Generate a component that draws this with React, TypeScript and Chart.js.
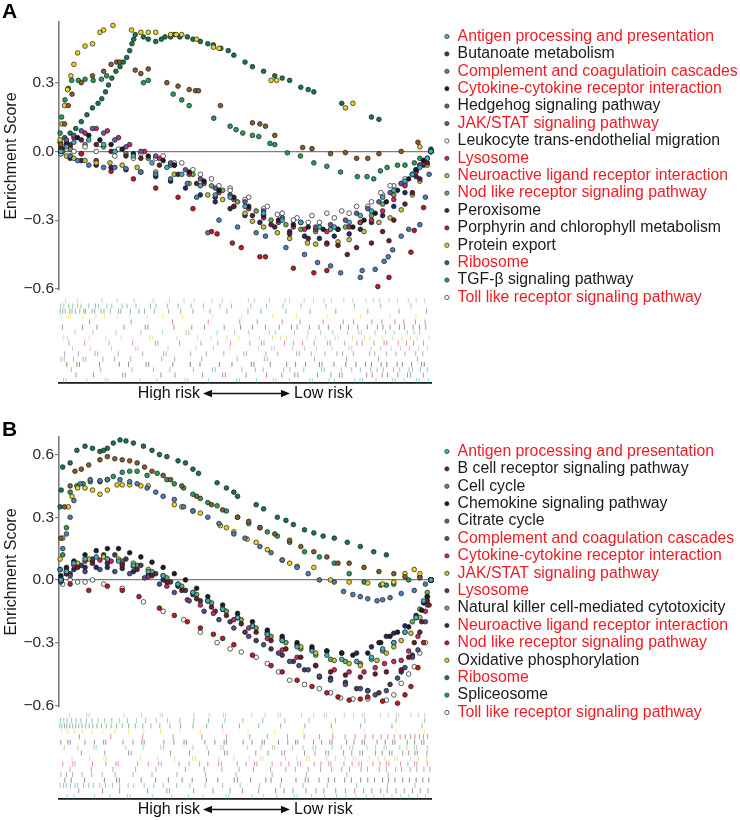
import { useEffect, useRef } from 'react';
import { Chart, registerables } from 'chart.js';

Chart.register(...registerables);
Chart.defaults.font.family = '"Liberation Sans", Arial, Helvetica, sans-serif';

type Pt = [number, number];

const RED = '#ee1c25';
const BLACK = '#1a1a1a';
const yTicks = [-0.6, -0.3, 0, 0.3, 0.6];

// ---------------- Panel A ----------------
const namesA = [
  'Antigen processing and presentation',
  'Butanoate metabolism',
  'Complement and coagulatioin cascades',
  'Cytokine-cytokine receptor interaction',
  'Hedgehog signaling pathway',
  'JAK/STAT signaling pathway',
  'Leukocyte trans-endothelial migration',
  'Lysosome',
  'Neuroactive ligand receptor interaction',
  'Nod like receptor signaling pathway',
  'Peroxisome',
  'Porphyrin and chlorophyll metabolism',
  'Protein export',
  'Ribosome',
  'TGF-β signaling pathway',
  'Toll like receptor signaling pathway',
];
const textColorsA = [RED, BLACK, RED, RED, BLACK, RED, BLACK, RED, RED, RED, BLACK, BLACK, BLACK, RED, BLACK, RED];
const colorsA = ['#36b3c6', '#6a1b2c', '#4a80b9', '#1c1c26', '#8b5a2b', '#6c54a4', '#ffffff', '#d6245e',
  '#c3c63b', '#66b04f', '#1f2d66', '#c8161d', '#f0d21c', '#15784a', '#22a058', '#ffffff'];

// running enrichment score, x = position in ranked list (%)
const esA_antigen: Pt[] = [[0.5, 0], [2, 0.02], [4, 0.04], [8, 0.05], [12, 0.03], [15, 0], [20, -0.02], [25, -0.05], [29, -0.07], [33, -0.1], [38, -0.15], [42, -0.19], [46, -0.2], [50, -0.24], [55, -0.27], [60, -0.3], [65, -0.31], [70, -0.33], [74, -0.33], [78, -0.31], [81, -0.28], [84, -0.26], [87, -0.2], [90, -0.17], [93, -0.13], [95, -0.1], [97, -0.07], [99, -0.03], [100, 0]];
const esA_butanoate: Pt[] = [[0.5, 0.01], [3, 0.03], [6, 0.05], [10, 0.03], [14, 0], [18, -0.02], [22, -0.03], [27, -0.06], [32, -0.1], [37, -0.14], [42, -0.2], [47, -0.24], [52, -0.28], [57, -0.32], [62, -0.36], [67, -0.38], [72, -0.4], [75, -0.41], [77.5, -0.45], [80, -0.42], [84, -0.4], [87, -0.35], [88.7, -0.39], [90, -0.3], [93, -0.23], [95, -0.18], [97, -0.12], [99, -0.05], [100, 0]];
const esA_complement: Pt[] = [[1, 0], [3, -0.02], [5, -0.04], [8, -0.06], [12, -0.07], [15, -0.07], [18, -0.075], [22, -0.09], [26, -0.1], [30, -0.12], [34.5, -0.14], [37, -0.2], [40, -0.355], [43, -0.3], [48, -0.33], [53, -0.355], [55.5, -0.37], [61, -0.42], [66, -0.45], [69.5, -0.485], [73, -0.5], [75.7, -0.53], [81, -0.55], [81.5, -0.52], [85, -0.515], [87.4, -0.48], [88.5, -0.46], [89.7, -0.43], [92, -0.37], [94, -0.34], [97, -0.32], [98.5, -0.2], [99.5, -0.1], [100, 0]];
const esA_cytokine: Pt[] = [[0.5, 0], [2, 0.03], [5, 0.06], [8, 0.07], [11, 0.05], [14, 0.03], [17, 0.01], [20, -0.01], [24, -0.02], [28, -0.04], [31, -0.06], [35, -0.09], [39, -0.13], [43, -0.17], [47, -0.2], [51, -0.24], [55, -0.28], [59, -0.3], [63, -0.32], [67, -0.33], [71, -0.34], [75, -0.34], [79, -0.33], [82, -0.3], [85, -0.27], [88, -0.22], [91, -0.17], [94, -0.12], [96, -0.08], [98, -0.04], [100, 0]];
const esA_hedgehog: Pt[] = [[0.5, 0.03], [1.5, 0.12], [2.5, 0.2], [3.5, 0.25], [6, 0.3], [9, 0.33], [12, 0.35], [14, 0.38], [15.5, 0.39], [16.3, 0.39], [20.5, 0.355], [22, 0.34], [24, 0.36], [29, 0.3], [32, 0.285], [35, 0.27], [36.7, 0.265], [37.5, 0.265], [43.4, 0.2], [52, 0.125], [54, 0.12], [55.5, 0.11], [58, 0.07], [65.5, 0.017], [68, 0.012], [73, -0.01], [77, -0.005], [80, -0.03], [83, -0.03], [86, -0.01], [92, 0], [96.5, 0.04], [100, 0]];
const esA_jak: Pt[] = [[0.5, 0.02], [2, 0.05], [4, 0.07], [6, 0.09], [9, 0.1], [12, 0.08], [15, 0.05], [18, 0.02], [22, 0], [26, -0.02], [30, -0.05], [34, -0.08], [38, -0.12], [42, -0.16], [46, -0.19], [50, -0.22], [55, -0.26], [60, -0.29], [65, -0.31], [69, -0.33], [73, -0.32], [77, -0.3], [80, -0.27], [83, -0.25], [86, -0.22], [89, -0.18], [92, -0.14], [95, -0.1], [97, -0.06], [99, -0.03], [100, 0]];
const esA_leukocyte: Pt[] = [[0.5, -0.01], [2, 0.01], [4, 0], [7, 0.02], [11, 0.03], [16, 0.01], [22, -0.01], [28, -0.02], [33, -0.05], [38, -0.1], [43, -0.15], [46, -0.17], [50, -0.21], [55, -0.25], [58.7, -0.275], [63, -0.3], [67, -0.31], [70, -0.31], [74, -0.29], [78, -0.27], [83, -0.24], [86.5, -0.18], [89, -0.15], [92, -0.14], [95, -0.1], [97, -0.06], [100, 0]];
const esA_lysosome: Pt[] = [[0.5, 0.01], [2, 0.04], [4, 0.06], [7, 0.08], [10, 0.1], [13, 0.09], [16, 0.06], [19, 0.03], [23, 0], [27, -0.03], [31, -0.06], [35, -0.1], [39, -0.14], [43, -0.18], [47, -0.21], [51, -0.25], [55, -0.29], [59, -0.31], [63, -0.33], [66, -0.34], [69, -0.34], [72, -0.35], [75, -0.34], [78, -0.33], [81, -0.31], [84, -0.3], [87, -0.26], [90, -0.21], [93, -0.15], [96, -0.09], [98, -0.05], [100, 0]];
const esA_neuroactive: Pt[] = [[0.5, 0], [2, -0.02], [4, -0.03], [7, -0.04], [10, -0.05], [13.7, -0.05], [17, -0.06], [21, -0.07], [26, -0.09], [31, -0.1], [35, -0.14], [40, -0.19], [44, -0.21], [47, -0.24], [50, -0.27], [52, -0.305], [55, -0.33], [58.7, -0.355], [62, -0.38], [66.8, -0.4], [69, -0.405], [72, -0.405], [75, -0.395], [78, -0.385], [82, -0.35], [86, -0.31], [89, -0.29], [92, -0.255], [95, -0.19], [97, -0.13], [99, -0.06], [100, 0]];
const esA_nod: Pt[] = [[0.5, 0], [3, 0.01], [7, 0.03], [12, 0.02], [18, -0.01], [24, -0.03], [30, -0.06], [36, -0.1], [41, -0.15], [44, -0.17], [48, -0.22], [53, -0.26], [57, -0.3], [61, -0.32], [65, -0.34], [69, -0.35], [73, -0.34], [77, -0.33], [81, -0.31], [84, -0.28], [87, -0.23], [90, -0.19], [93, -0.14], [96, -0.08], [100, 0]];
const esA_peroxisome: Pt[] = [[0.5, -0.01], [3, -0.03], [6, -0.04], [10, -0.06], [14, -0.07], [18, -0.08], [22, -0.09], [26, -0.11], [30, -0.13], [34, -0.16], [38, -0.19], [42, -0.22], [46, -0.25], [50, -0.28], [54, -0.31], [58, -0.33], [62, -0.35], [66, -0.37], [70, -0.38], [74, -0.37], [78, -0.36], [81, -0.34], [84, -0.31], [87, -0.28], [90, -0.24], [93, -0.18], [96, -0.11], [98, -0.06], [100, 0]];
const esA_porphyrin: Pt[] = [[1, 0.01], [3, 0.02], [6, -0.01], [10, -0.04], [14, -0.087], [20, -0.12], [26, -0.16], [32, -0.2], [36, -0.25], [41, -0.35], [42.5, -0.36], [46.6, -0.4], [49, -0.42], [54, -0.46], [55.5, -0.46], [63, -0.51], [68.5, -0.53], [72, -0.52], [85.7, -0.59], [88.7, -0.55], [94.6, -0.44], [95.5, -0.345], [98, -0.245], [100, 0]];
const esA_protein: Pt[] = [[0.3, 0.05], [0.8, 0.12], [1.5, 0.2], [2.3, 0.27], [3.2, 0.33], [4, 0.38], [5, 0.43], [7, 0.46], [9, 0.47], [11, 0.52], [12, 0.53], [14.5, 0.55], [19.5, 0.53], [22, 0.52], [24, 0.52], [26, 0.52], [30, 0.51], [31.5, 0.51], [33, 0.51], [37, 0.49], [41.5, 0.455], [43, 0.45], [57, 0.31], [58.5, 0.31], [77, 0.19], [79, 0.21], [97, 0.02], [100, 0]];
const esA_ribosome: Pt[] = [[0.3, 0.04], [1.5, 0.06], [3, 0.08], [4.5, 0.1], [6, 0.13], [7.5, 0.16], [9, 0.19], [10.5, 0.21], [11.5, 0.23], [12.5, 0.26], [13.3, 0.29], [14.2, 0.32], [15.3, 0.35], [16.4, 0.37], [17.3, 0.39], [18.2, 0.41], [19, 0.44], [19.6, 0.47], [20.1, 0.49], [20.5, 0.51], [22.7, 0.5], [24, 0.49], [26, 0.48], [27.5, 0.49], [28.5, 0.5], [30, 0.5], [31, 0.51], [32.5, 0.5], [34.5, 0.5], [36, 0.49], [38, 0.48], [40, 0.47], [41.5, 0.465], [43.5, 0.45], [45.5, 0.44], [47, 0.42], [50, 0.39], [52, 0.37], [55, 0.35], [58, 0.33], [60, 0.32], [62, 0.31], [65, 0.28], [67, 0.27], [68.5, 0.26], [76, 0.21], [84, 0.15], [86, 0.14], [100, 0.01]];
const esA_tgf: Pt[] = [[0.3, 0.08], [0.7, 0.15], [1.6, 0.225], [2.5, 0.275], [3.4, 0.31], [5.2, 0.31], [7, 0.315], [9.2, 0.31], [11.4, 0.315], [12.8, 0.33], [22.7, 0.3], [24, 0.31], [30.7, 0.25], [33, 0.225], [35, 0.2], [41.6, 0.145], [46, 0.11], [47.6, 0.095], [49.4, 0.08], [52, 0.07], [53.7, 0.065], [56.7, 0.035], [58, 0.03], [61.4, -0.006], [64.9, -0.02], [68.5, -0.05], [72, -0.065], [75.7, -0.09], [80.2, -0.11], [82.8, -0.11], [84.6, -0.12], [86.4, -0.085], [88.2, -0.07], [91, -0.06], [93, -0.06], [95.5, -0.05], [97, -0.03], [100, 0]];
const esA_toll: Pt[] = [[0.5, 0], [3, -0.02], [6, -0.01], [10, 0], [15, -0.02], [20, -0.03], [26, -0.03], [31, -0.05], [36, -0.08], [41, -0.12], [46, -0.16], [51, -0.2], [56, -0.24], [60, -0.27], [64, -0.29], [68, -0.28], [72, -0.27], [76, -0.26], [80, -0.24], [84, -0.22], [87, -0.19], [90, -0.15], [93, -0.12], [96, -0.08], [98, -0.04], [100, 0]];

// gene-set hit positions (%) for the barcode rows
const hitsA_antigen = [1.2, 1.9, 7.5, 12.4, 13.1, 21.8, 26.3, 33.9, 34.6, 40.2, 47.8, 48.5, 53.1, 57.6, 58.3, 61.9, 67.4, 68.1, 72.6, 74.0, 79.5, 80.9, 81.6, 85.2, 89.7, 90.4, 92.8, 96.1, 96.8, 99.3];
const hitsA_butanoate = [4.6, 9.3, 17.1, 17.8, 27.4, 31.2, 38.6, 44.0, 44.7, 50.3, 55.8, 59.9, 63.4, 64.2, 69.5, 73.1, 75.4, 76.1, 82.7, 84.2, 86.9, 88.3, 91.1, 93.7, 94.5, 97.9];
const hitsA_complement = [3.3, 11.2, 19.6, 25.4, 29.8, 36.1, 41.3, 42.0, 49.2, 52.8, 54.9, 60.4, 62.1, 65.8, 70.6, 71.3, 75.9, 78.7, 81.0, 83.8, 85.5, 87.2, 89.9, 91.6, 94.1, 95.0, 97.2, 99.0];
const hitsA_cytokine = [2.1, 4.8, 5.5, 10.9, 16.2, 18.7, 23.4, 24.1, 30.6, 35.3, 37.9, 43.1, 46.5, 51.7, 52.4, 56.8, 61.2, 63.6, 66.3, 70.0, 70.7, 73.9, 77.1, 79.8, 82.4, 84.0, 86.6, 88.1, 90.9, 92.3, 94.8, 97.5, 98.2];
const hitsA_hedgehog = [0.6, 1.4, 3.9, 6.5, 7.2, 11.8, 14.9, 19.3, 27.6, 31.1, 38.4, 47.9, 55.2, 56.0, 68.7, 77.3, 85.9, 96.4];
const hitsA_jak = [1.5, 5.2, 9.7, 10.4, 15.9, 22.5, 28.1, 28.8, 35.4, 39.6, 44.3, 49.7, 50.4, 55.6, 58.8, 63.9, 64.6, 67.8, 71.5, 74.7, 76.2, 79.1, 83.5, 84.9, 88.0, 90.6, 93.0, 95.9, 97.8];
const hitsA_leukocyte = [3.6, 8.4, 14.1, 20.5, 21.2, 29.3, 36.8, 41.5, 45.9, 53.6, 57.2, 57.9, 62.8, 66.0, 69.2, 73.4, 78.0, 78.7, 83.9, 86.4, 89.3, 91.8, 94.2, 96.6, 99.1];
const hitsA_lysosome = [2.7, 6.9, 13.5, 19.8, 25.9, 26.6, 32.4, 38.2, 42.7, 46.1, 51.3, 54.4, 55.1, 60.6, 63.0, 65.5, 68.6, 72.2, 72.9, 76.8, 80.1, 81.5, 84.7, 87.4, 88.1, 91.2, 93.4, 95.3, 98.0];
const hitsA_neuroactive = [1.1, 2.3, 8.1, 12.6, 16.7, 24.4, 25.1, 31.7, 37.3, 40.9, 45.2, 48.3, 53.9, 57.4, 59.6, 61.1, 66.7, 69.0, 71.7, 74.3, 75.0, 78.9, 82.1, 83.6, 87.0, 89.6, 92.2, 94.4, 96.3, 99.5];
const hitsA_nod = [4.3, 9.1, 15.3, 22.0, 27.8, 34.2, 34.9, 42.5, 47.2, 51.0, 56.5, 58.1, 63.3, 66.9, 70.3, 73.6, 77.6, 80.6, 81.3, 85.0, 87.8, 90.1, 93.6, 95.5, 97.0];
const hitsA_peroxisome = [0.9, 6.3, 10.2, 17.5, 23.2, 23.9, 30.9, 35.7, 39.1, 44.4, 48.8, 52.0, 55.5, 59.2, 62.5, 64.0, 67.3, 69.9, 72.4, 75.7, 77.8, 80.3, 82.9, 85.6, 87.1, 89.0, 91.5, 92.9, 95.2, 96.9, 98.6];
const hitsA_porphyrin = [8.2, 19.4, 30.5, 40.1, 48.6, 53.3, 60.0, 64.8, 71.0, 76.4, 79.2, 84.1, 86.8, 90.3, 92.7, 95.8, 98.4];
const hitsA_protein = [0.7, 2.5, 3.1, 6.4, 9.9, 12.2, 15.7, 19.0, 23.7, 27.9, 33.2, 41.4, 49.1, 57.5, 63.8, 72.0, 81.1, 88.9, 96.0];
const hitsA_ribosome = [0.3, 1.0, 1.7, 2.9, 3.5, 4.4, 5.6, 6.7, 7.1, 8.9, 9.6, 11.3, 12.1, 13.8, 16.0, 16.6, 19.2, 21.5, 23.0, 25.6, 29.5, 32.7, 36.0, 40.6, 45.1, 50.8, 54.3, 61.0, 67.5, 74.4, 83.0, 91.4, 98.8];
const hitsA_tgf = [0.5, 1.3, 2.6, 3.7, 5.0, 5.9, 8.0, 9.8, 10.6, 12.9, 14.2, 17.0, 18.3, 20.7, 24.6, 26.1, 29.1, 32.0, 35.5, 38.8, 43.3, 46.4, 51.6, 55.8, 60.2, 65.1, 71.8, 79.4, 86.5, 94.6];
const hitsA_toll = [1.8, 4.9, 11.6, 15.6, 20.2, 25.3, 29.7, 33.6, 36.3, 41.1, 43.9, 50.9, 52.5, 56.6, 60.8, 62.0, 65.9, 68.4, 71.2, 73.2, 76.6, 79.0, 82.5, 84.5, 86.2, 88.7, 91.0, 93.9, 96.0, 98.3];

// ---------------- Panel B ----------------
const namesB = [
  'Antigen processing and presentation',
  'B cell receptor signaling pathway',
  'Cell cycle',
  'Chemokine signaling pathway',
  'Citrate cycle',
  'Complement and coagulation cascades',
  'Cytokine-cytokine receptor interaction',
  'JAK/STAT signaling pathway',
  'Lysosome',
  'Natural killer cell-mediated cytotoxicity',
  'Neuroactive ligand receptor interaction',
  'Nod like receptor signaling pathway',
  'Oxidative phosphorylation',
  'Ribosome',
  'Spliceosome',
  'Toll like receptor signaling pathway',
];
const textColorsB = [RED, BLACK, BLACK, BLACK, BLACK, RED, RED, RED, RED, BLACK, RED, RED, BLACK, RED, BLACK, RED];
const colorsB = ['#36b3c6', '#6a1b2c', '#4a80b9', '#1c1c26', '#8b5a2b', '#4b4f8f', '#d6245e', '#c3c63b',
  '#463a4c', '#66b04f', '#1f2d66', '#c8161d', '#f0d21c', '#15784a', '#22a058', '#ffffff'];

const esB_antigen: Pt[] = [[0.5, 0], [2, 0.04], [4, 0.08], [7, 0.1], [10, 0.11], [13, 0.1], [16, 0.09], [20, 0.07], [24, 0.04], [28, 0.02], [32, -0.02], [36, -0.06], [40, -0.1], [44, -0.14], [48, -0.18], [52, -0.22], [56, -0.26], [60, -0.29], [64, -0.32], [68, -0.34], [72, -0.36], [76, -0.38], [80, -0.39], [84, -0.37], [87, -0.33], [90, -0.3], [93, -0.25], [96, -0.18], [98, -0.1], [100, 0]];
const esB_bcell: Pt[] = [[0.5, 0], [2, 0.03], [5, 0.06], [9, 0.08], [13, 0.08], [17, 0.07], [21, 0.05], [25, 0.02], [29, -0.01], [33, -0.05], [37, -0.09], [41, -0.13], [45, -0.17], [49, -0.21], [53, -0.25], [57, -0.29], [61, -0.33], [65, -0.37], [69, -0.41], [73, -0.44], [77, -0.455], [81, -0.465], [85, -0.45], [88, -0.44], [92, -0.43], [94, -0.37], [95.5, -0.3], [97.5, -0.2], [99, -0.1], [100, 0]];
const esB_cellcycle: Pt[] = [[0.3, 0.05], [1, 0.15], [2, 0.22], [3, 0.3], [4, 0.38], [5.7, 0.46], [8.4, 0.48], [11, 0.475], [13, 0.48], [16.4, 0.48], [19, 0.47], [21, 0.46], [23.7, 0.44], [26, 0.42], [28, 0.4], [31, 0.385], [33.5, 0.35], [36, 0.33], [40, 0.3], [43, 0.27], [47, 0.22], [50, 0.2], [54, 0.16], [57, 0.13], [60, 0.095], [64, 0.06], [67, 0.03], [70, 0], [74, -0.01], [76.5, -0.055], [79, -0.07], [81, -0.08], [83, -0.09], [85.5, -0.1], [87, -0.095], [89, -0.085], [92, -0.065], [95.5, -0.05], [98.5, -0.02], [100, 0]];
const esB_chemokine: Pt[] = [[0.5, 0.02], [2, 0.06], [4, 0.09], [7, 0.12], [10, 0.14], [13, 0.15], [16, 0.15], [19, 0.13], [22, 0.11], [25, 0.085], [28, 0.06], [31, 0.03], [34, 0], [37, -0.04], [40, -0.08], [44, -0.12], [48, -0.16], [52, -0.2], [56, -0.24], [60, -0.27], [64, -0.3], [68, -0.32], [72, -0.34], [76, -0.35], [79, -0.36], [83, -0.35], [86.5, -0.3], [89, -0.27], [91, -0.25], [94, -0.225], [96, -0.18], [97.5, -0.145], [99, -0.08], [100, 0]];
const esB_citrate: Pt[] = [[0.5, 0.2], [1.5, 0.35], [3, 0.45], [4.3, 0.52], [6, 0.53], [8, 0.55], [11, 0.575], [13, 0.59], [15, 0.58], [17, 0.575], [19, 0.57], [21, 0.56], [23, 0.54], [25, 0.52], [28, 0.5], [30, 0.48], [33, 0.45], [37, 0.4], [41, 0.36], [44, 0.335], [48, 0.3], [51, 0.28], [54, 0.25], [58, 0.22], [62, 0.19], [65, 0.16], [68.5, 0.135], [72, 0.11], [75, 0.08], [78, 0.08], [82, 0.06], [86, 0.04], [90, 0.03], [93, 0.015], [97, 0.01], [100, 0]];
const esB_complement: Pt[] = [[0.5, -0.01], [3, 0.02], [7, 0.04], [11, 0.05], [15, 0.04], [19, 0.03], [23, 0.01], [27, -0.02], [31, -0.06], [35, -0.1], [39, -0.15], [43, -0.19], [47, -0.23], [51, -0.27], [55, -0.31], [59, -0.35], [62, -0.39], [64.5, -0.41], [67, -0.43], [70, -0.46], [73, -0.48], [77, -0.5], [81, -0.52], [83, -0.53], [85, -0.55], [88, -0.53], [91, -0.47], [93, -0.42], [95, -0.37], [96.5, -0.335], [98.5, -0.2], [100, 0]];
const esB_cytokine: Pt[] = [[0.5, 0], [2, 0.04], [4, 0.07], [7, 0.09], [11, 0.095], [14, 0.09], [17, 0.08], [20, 0.065], [24, 0.015], [29, -0.03], [34.5, -0.095], [38, -0.12], [41.5, -0.16], [47, -0.19], [51, -0.23], [56, -0.28], [60, -0.335], [64, -0.37], [69, -0.41], [74, -0.43], [78, -0.44], [82, -0.44], [85, -0.42], [87.5, -0.4], [90, -0.39], [92, -0.385], [94, -0.34], [96.5, -0.27], [98.5, -0.15], [100, 0]];
const esB_jak: Pt[] = [[0.5, 0.01], [2, 0.05], [5, 0.08], [8, 0.1], [12, 0.11], [16, 0.1], [20, 0.08], [24, 0.05], [28, 0.02], [32, -0.02], [36, -0.06], [40, -0.1], [44, -0.14], [48, -0.18], [52, -0.22], [56, -0.26], [60, -0.29], [65, -0.32], [69, -0.35], [74, -0.385], [78, -0.4], [81, -0.41], [85.5, -0.385], [88, -0.35], [90, -0.32], [92, -0.29], [94.6, -0.255], [97, -0.18], [99, -0.08], [100, 0]];
const esB_lysosome: Pt[] = [[0.5, 0], [3, 0.03], [6, 0.07], [9, 0.1], [12, 0.12], [15, 0.12], [18, 0.1], [22, 0.07], [26, 0.03], [30, -0.01], [34, -0.05], [38, -0.1], [42, -0.15], [46, -0.2], [50, -0.25], [53, -0.29], [57, -0.33], [60, -0.36], [63, -0.39], [66, -0.43], [70, -0.465], [73, -0.47], [77, -0.49], [80, -0.52], [83, -0.53], [86, -0.54], [89, -0.5], [92, -0.44], [95, -0.36], [97, -0.25], [99, -0.12], [100, 0]];
const esB_nk: Pt[] = [[0.5, 0], [2, 0.04], [5, 0.07], [9, 0.09], [13, 0.1], [17, 0.09], [21, 0.07], [25, 0.04], [29, 0.01], [33, -0.03], [37, -0.07], [41, -0.11], [45, -0.15], [49, -0.19], [53, -0.23], [57, -0.27], [61, -0.3], [65, -0.33], [69, -0.36], [73, -0.38], [77, -0.39], [81, -0.4], [84, -0.38], [87, -0.34], [90, -0.3], [93, -0.25], [95, -0.2], [97, -0.14], [99, -0.06], [100, 0]];
const esB_neuroactive: Pt[] = [[0.5, 0], [2, 0.03], [4, 0.05], [7, 0.06], [10, 0.06], [13, 0.06], [17, 0.055], [20, 0.04], [24, 0.025], [28, 0], [32, -0.03], [36, -0.07], [40, -0.1], [44, -0.14], [48, -0.18], [52, -0.22], [56, -0.25], [60, -0.28], [64, -0.31], [68, -0.33], [72, -0.34], [76, -0.35], [80, -0.35], [84, -0.32], [86, -0.3], [88, -0.27], [90, -0.255], [93, -0.22], [96, -0.17], [98, -0.11], [100, 0]];
const esB_nod: Pt[] = [[0.5, 0], [3, -0.02], [8, -0.05], [13, -0.03], [17, -0.05], [21.5, -0.08], [27, -0.135], [31, -0.17], [34.5, -0.2], [38, -0.23], [41.5, -0.26], [44, -0.28], [47, -0.31], [52, -0.36], [57, -0.41], [60, -0.44], [64, -0.48], [68, -0.51], [72, -0.54], [75, -0.56], [78, -0.575], [81, -0.57], [83, -0.56], [87, -0.58], [91, -0.59], [93, -0.55], [94.6, -0.51], [96.5, -0.42], [98, -0.3], [99.5, -0.12], [100, 0]];
const esB_oxidative: Pt[] = [[0.3, 0.1], [1, 0.2], [2.5, 0.35], [3.5, 0.4], [5, 0.44], [7, 0.44], [9, 0.43], [11, 0.41], [13, 0.43], [15.6, 0.455], [17, 0.455], [19, 0.455], [22, 0.45], [24, 0.45], [31, 0.36], [33, 0.35], [36, 0.33], [38, 0.32], [43.4, 0.26], [45, 0.25], [47, 0.23], [50.6, 0.195], [53, 0.18], [56, 0.145], [60, 0.095], [62, 0.08], [64, 0.065], [68.5, 0.06], [73, 0], [78, -0.01], [83, -0.015], [87, -0.02], [90, -0.01], [93, 0.03], [95.5, 0.05], [97, 0.03], [100, 0]];
const esB_ribosome: Pt[] = [[0.3, 0.35], [0.6, 0.43], [1, 0.54], [3, 0.56], [4.8, 0.62], [7, 0.64], [9, 0.63], [11, 0.615], [12, 0.62], [13, 0.63], [14.6, 0.655], [16.4, 0.67], [18, 0.665], [20, 0.655], [22.7, 0.64], [25, 0.62], [27, 0.6], [29, 0.59], [32, 0.57], [34, 0.56], [36, 0.53], [37.5, 0.51], [42.5, 0.465], [45, 0.44], [47, 0.42], [48, 0.4], [53, 0.36], [55, 0.34], [58.7, 0.3], [61, 0.285], [63, 0.265], [66, 0.24], [68.5, 0.225], [71, 0.21], [74, 0.2], [77.5, 0.18], [81, 0.16], [84.6, 0.135], [88, 0.12], [100, 0]];
const esB_spliceosome: Pt[] = [[0.3, 0.05], [1, 0.12], [2, 0.25], [3, 0.42], [4.8, 0.45], [6.5, 0.46], [8.4, 0.47], [11, 0.47], [13, 0.48], [14.6, 0.495], [17, 0.515], [19, 0.52], [21, 0.52], [23.7, 0.5], [26.4, 0.51], [29, 0.48], [31, 0.46], [33.5, 0.44], [36, 0.41], [38, 0.39], [40, 0.37], [42.5, 0.355], [45, 0.33], [48, 0.3], [51, 0.27], [54, 0.25], [56, 0.23], [58.7, 0.21], [62, 0.18], [66, 0.135], [70, 0.11], [74, 0.08], [78, 0.03], [82, -0.01], [86.5, -0.025], [88, -0.025], [90, -0.02], [94, 0], [97, 0.015], [100, 0]];
const esB_toll: Pt[] = [[1, -0.02], [3, 0], [5, -0.01], [7, -0.01], [9, 0], [12, -0.02], [17, -0.04], [22.7, -0.105], [28, -0.15], [33.5, -0.19], [38, -0.25], [42.5, -0.3], [46, -0.33], [49, -0.345], [53, -0.37], [56, -0.4], [59, -0.44], [62, -0.48], [66, -0.5], [70, -0.52], [73, -0.54], [75.7, -0.565], [79, -0.57], [83, -0.57], [88, -0.575], [90, -0.55], [92, -0.495], [94, -0.45], [95.5, -0.415], [97, -0.35], [98.5, -0.3], [100, 0]];

const hitsB_antigen = [2.2, 4.0, 9.6, 13.7, 18.4, 19.1, 25.2, 30.3, 34.8, 38.7, 44.9, 45.6, 51.9, 55.0, 58.6, 63.3, 64.0, 67.9, 71.4, 74.6, 77.2, 79.8, 82.6, 84.7, 87.3, 89.5, 91.9, 94.0, 96.4, 98.5];
const hitsB_bcell = [5.3, 11.7, 16.3, 23.8, 29.0, 29.7, 36.2, 41.4, 46.0, 49.3, 53.7, 58.2, 60.5, 62.9, 66.4, 69.1, 71.2, 74.4, 77.0, 79.5, 81.9, 84.1, 86.5, 88.2, 90.6, 92.8, 95.0, 97.1, 99.2];
const hitsB_cellcycle = [0.3, 1.2, 1.9, 3.1, 4.3, 5.0, 6.6, 8.0, 9.2, 11.0, 12.5, 14.4, 16.3, 18.6, 20.1, 22.9, 25.5, 28.0, 31.6, 35.2, 39.3, 44.0, 48.7, 53.9, 59.5, 65.6, 72.1, 80.0, 88.3, 95.7];
const hitsB_chemokine = [1.6, 3.3, 6.9, 12.2, 15.5, 16.2, 22.1, 26.0, 29.4, 33.1, 35.8, 39.6, 42.7, 47.1, 48.0, 51.5, 55.6, 57.0, 59.8, 63.7, 66.2, 67.0, 69.9, 72.4, 74.1, 76.8, 78.6, 81.1, 83.0, 84.8, 87.0, 88.6, 90.3, 92.4, 94.2, 96.0, 97.8, 99.4];
const hitsB_citrate = [0.5, 2.0, 3.6, 6.2, 8.8, 11.6, 15.1, 19.9, 25.0, 31.7, 39.4, 47.6, 57.3, 66.5, 77.4, 88.5];
const hitsB_complement = [3.0, 8.7, 14.5, 20.6, 26.1, 34.0, 39.0, 43.8, 48.4, 52.3, 56.9, 61.0, 63.5, 67.0, 70.3, 73.3, 76.0, 78.1, 81.2, 82.9, 86.1, 88.0, 90.5, 92.1, 94.4, 96.2, 98.1, 99.7];
const hitsB_cytokine = [1.0, 3.7, 4.3, 9.0, 12.6, 15.3, 15.9, 21.1, 24.0, 26.8, 27.5, 32.3, 35.0, 37.8, 40.0, 42.9, 43.6, 47.9, 50.3, 52.6, 53.2, 57.3, 59.7, 61.8, 64.2, 64.9, 68.6, 70.4, 72.5, 73.1, 76.6, 78.8, 80.6, 81.3, 84.4, 86.3, 88.0, 88.7, 91.8, 93.8, 95.6, 96.2, 99.0];
const hitsB_jak = [3.5, 8.2, 12.1, 12.8, 21.9, 26.5, 31.1, 35.9, 36.6, 43.0, 47.0, 51.1, 54.1, 54.8, 60.9, 63.9, 66.6, 67.2, 72.0, 74.3, 76.9, 79.1, 79.8, 83.4, 85.8, 87.6, 90.2, 90.9, 94.5, 96.6, 98.8];
const hitsB_lysosome = [6.0, 12.3, 18.7, 19.4, 30.0, 35.1, 40.2, 44.5, 45.2, 52.9, 56.2, 59.9, 60.6, 66.0, 68.8, 71.7, 72.4, 76.5, 78.7, 80.9, 81.6, 85.1, 86.9, 88.8, 89.5, 92.4, 94.0, 95.7, 96.3, 98.9];
const hitsB_nk = [1.4, 5.1, 9.4, 10.0, 18.0, 22.6, 27.4, 28.1, 36.0, 39.8, 43.5, 44.2, 50.6, 54.3, 57.4, 58.0, 62.8, 65.6, 68.3, 69.0, 73.4, 75.9, 78.2, 78.9, 82.8, 85.1, 87.4, 88.0, 91.6, 93.5, 95.5, 96.1, 99.1];
const hitsB_neuroactive = [0.5, 2.4, 3.0, 7.0, 9.5, 12.0, 12.6, 17.2, 19.9, 22.3, 22.9, 28.2, 30.9, 33.6, 34.2, 39.2, 41.9, 44.4, 45.0, 49.5, 51.9, 54.6, 55.2, 59.0, 61.5, 63.6, 64.2, 68.4, 70.6, 72.8, 73.4, 77.3, 79.3, 81.5, 82.1, 85.5, 87.7, 89.7, 90.3, 93.6, 95.6, 97.5, 98.1];
const hitsB_nod = [5.5, 13.9, 22.5, 30.7, 38.4, 45.0, 51.3, 56.0, 61.4, 65.9, 70.0, 73.6, 76.9, 79.6, 82.3, 84.4, 86.6, 88.4, 90.1, 91.7, 93.1, 94.5, 95.7, 96.9, 98.0, 99.1];
const hitsB_oxidative = [0.7, 2.3, 4.2, 6.3, 8.9, 11.8, 15.0, 18.7, 22.8, 27.3, 32.4, 38.0, 44.1, 50.8, 58.0, 65.5, 73.6, 82.0, 90.6, 98.2];
const hitsB_ribosome = [0.2, 0.8, 1.5, 2.1, 2.9, 3.7, 4.5, 5.3, 6.2, 7.2, 8.1, 9.1, 10.2, 11.4, 12.7, 14.0, 15.5, 17.0, 18.7, 20.5, 22.5, 24.7, 27.1, 29.8, 32.7, 36.0, 39.7, 43.9, 48.5, 53.7, 59.6, 66.1, 73.2, 81.1, 89.5, 97.6];
const hitsB_spliceosome = [0.4, 1.3, 2.2, 3.4, 4.6, 5.9, 7.4, 8.9, 10.5, 12.3, 14.2, 16.2, 18.4, 20.8, 23.3, 26.1, 29.2, 32.5, 36.2, 40.2, 44.6, 49.4, 54.8, 60.7, 67.2, 74.3, 82.2, 90.6, 98.3];
const hitsB_toll = [2.9, 7.5, 8.1, 17.5, 22.2, 27.2, 27.8, 36.3, 40.4, 44.2, 44.8, 51.8, 55.4, 58.9, 59.5, 65.2, 68.5, 71.3, 71.9, 76.7, 79.2, 81.6, 82.2, 86.4, 88.5, 90.7, 91.3, 94.6, 96.6, 98.3];

interface Panel {
  letter: string;
  names: string[];
  textColors: string[];
  colors: string[];
  curves: Pt[][];
  hits: number[][];
  yMin: number;
  yMax: number;
  bMin: number;
  yWeight: number;
  bWeight: number;
  letterPad: { top: number; bottom: number };
  xAxisH: number;
  legendTop: number;
  height: number;
}

const panelA: Panel = {
  letter: 'A', names: namesA, textColors: textColorsA, colors: colorsA,
  curves: [esA_antigen, esA_butanoate, esA_complement, esA_cytokine, esA_hedgehog, esA_jak, esA_leukocyte, esA_lysosome,
    esA_neuroactive, esA_nod, esA_peroxisome, esA_porphyrin, esA_protein, esA_ribosome, esA_tgf, esA_toll],
  hits: [hitsA_antigen, hitsA_butanoate, hitsA_complement, hitsA_cytokine, hitsA_hedgehog, hitsA_jak, hitsA_leukocyte, hitsA_lysosome,
    hitsA_neuroactive, hitsA_nod, hitsA_peroxisome, hitsA_porphyrin, hitsA_protein, hitsA_ribosome, hitsA_tgf, hitsA_toll],
  yMin: -0.605, yMax: 0.565, bMin: -2, yWeight: 268, bWeight: 93, letterPad: { top: 2, bottom: -1 }, xAxisH: 17, legendTop: 27, height: 400,
};

const panelB: Panel = {
  letter: 'B', names: namesB, textColors: textColorsB, colors: colorsB,
  curves: [esB_antigen, esB_bcell, esB_cellcycle, esB_chemokine, esB_citrate, esB_complement, esB_cytokine, esB_jak,
    esB_lysosome, esB_nk, esB_neuroactive, esB_nod, esB_oxidative, esB_ribosome, esB_spliceosome, esB_toll],
  hits: [hitsB_antigen, hitsB_bcell, hitsB_cellcycle, hitsB_chemokine, hitsB_citrate, hitsB_complement, hitsB_cytokine, hitsB_jak,
    hitsB_lysosome, hitsB_nk, hitsB_neuroactive, hitsB_nod, hitsB_oxidative, hitsB_ribosome, hitsB_spliceosome, hitsB_toll],
  yMin: -0.608, yMax: 0.684, bMin: -1.5, yWeight: 270, bWeight: 92, letterPad: { top: 20, bottom: -4 }, xAxisH: 21, legendTop: 42, height: 420,
};

// pale colour for the barcode ticks
function tint(hex: string) {
  if (hex === '#ffffff') return 'rgba(150,150,150,0.45)';
  const r = parseInt(hex.slice(1, 3), 16);
  const g = parseInt(hex.slice(3, 5), 16);
  const b = parseInt(hex.slice(5, 7), 16);
  return `rgba(${r},${g},${b},0.5)`;
}

// "High risk <-> Low risk" under the barcode
const riskArrow = {
  id: 'riskArrow',
  afterDraw(chart: any) {
    const { ctx, chartArea } = chart;
    const cx = (chartArea.left + chartArea.right) / 2 + 1.5;
    const cy = chartArea.bottom + 10.5;
    const half = 43.5;
    ctx.save();
    ctx.strokeStyle = '#111';
    ctx.fillStyle = '#111';
    ctx.lineWidth = 1.6;
    ctx.beginPath();
    ctx.moveTo(cx - half + 6, cy);
    ctx.lineTo(cx + half - 6, cy);
    ctx.stroke();
    ctx.beginPath();
    ctx.moveTo(cx - half, cy);
    ctx.lineTo(cx - half + 9, cy - 3.8);
    ctx.lineTo(cx - half + 9, cy + 3.8);
    ctx.closePath();
    ctx.fill();
    ctx.beginPath();
    ctx.moveTo(cx + half, cy);
    ctx.lineTo(cx + half - 9, cy - 3.8);
    ctx.lineTo(cx + half - 9, cy + 3.8);
    ctx.closePath();
    ctx.fill();
    ctx.font = '16px "Liberation Sans", Arial, sans-serif';
    ctx.textBaseline = 'middle';
    ctx.textAlign = 'right';
    ctx.fillText('High risk', cx - half - 3, cy);
    ctx.textAlign = 'left';
    ctx.fillText('Low risk', cx + half + 4, cy);
    ctx.restore();
  },
};

function fmtTick(v: number) {
  if (Math.abs(v) < 1e-9) return '0.0';
  return (v < 0 ? '\u2212' : '') + Math.abs(v).toFixed(1);
}

function plotConfig(p: Panel): any {
  const n = p.names.length;
  const esSets = p.curves.map((pts, i) => ({
    label: p.names[i],
    data: pts.map(([x, y]) => ({ x, y })),
    xAxisID: 'x',
    yAxisID: 'y',
    showLine: false,
    clip: false,
    pointStyle: 'circle',
    pointRadius: 2.35,
    pointBorderWidth: 0.7,
    backgroundColor: p.colors[i],
    borderColor: '#1a1a1a',
    pointBackgroundColor: p.colors[i],
    pointBorderColor: '#1a1a1a',
  }));
  const barSets = p.hits.map((h, i) => ({
    label: p.names[i] + ' (hits)',
    data: h.map((x) => ({ x, y: n - 1 - i })),
    xAxisID: 'x',
    yAxisID: 'yb',
    showLine: false,
    pointStyle: 'line',
    pointRotation: 90,
    pointRadius: 2.5,
    pointBorderWidth: 1,
    borderColor: tint(p.colors[i]),
    pointBorderColor: tint(p.colors[i]),
  }));
  return {
    type: 'scatter',
    data: { datasets: [...esSets, ...barSets] },
    options: {
      animation: false,
      responsive: false,
      events: [],
      layout: { padding: { top: 0, right: 9, bottom: 0, left: 2 } },
      scales: {
        x: {
          type: 'linear', position: 'bottom', min: 0, max: 100,
          ticks: { display: false },
          grid: { display: false },
          border: { display: true, color: '#1a1a1a', width: 1.8 },
          afterFit: (s: any) => { s.height = p.xAxisH; },
        },
        y: {
          type: 'linear', position: 'left', stack: 'es', stackWeight: p.yWeight, weight: 2,
          min: p.yMin, max: p.yMax,
          afterBuildTicks: (s: any) => { s.ticks = yTicks.filter((v) => v >= p.yMin && v <= p.yMax).map((v) => ({ value: v })); },
          ticks: { callback: (v: any) => fmtTick(Number(v)), color: '#2a2a2a', font: { size: 15.5 }, padding: 1 },
          grid: {
            color: (c: any) => (c.tick && Math.abs(c.tick.value) < 1e-9 ? '#7d7d7d' : 'rgba(0,0,0,0)'),
            tickColor: '#7d7d7d', tickLength: 4, lineWidth: 1.2,
          },
          border: { display: true, color: '#7d7d7d', width: 1.6 },
          title: { display: true, text: 'Enrichment Score', color: '#1a1a1a', font: { size: 16 }, padding: { top: 0, bottom: 0 } },
          afterFit: (s: any) => { s.width = 57; },
        },
        yb: {
          type: 'linear', position: 'left', stack: 'es', stackWeight: p.bWeight, weight: 1,
          min: p.bMin, max: 15.5, reverse: true,
          ticks: { display: false },
          grid: { display: false },
          border: { display: false },
          afterFit: (s: any) => { s.width = 57; },
        },
      },
      plugins: {
        legend: { display: false },
        tooltip: { enabled: false },
        title: {
          display: true, text: p.letter, align: 'start', color: '#000',
          font: { size: 21, weight: 'bold', lineHeight: 1 },
          padding: p.letterPad,
        },
      },
    },
    plugins: [riskArrow],
  };
}

function legendConfig(p: Panel): any {
  return {
    type: 'scatter',
    data: {
      datasets: p.names.map((name, i) => ({ label: name, data: [], backgroundColor: p.colors[i], borderColor: '#333' })),
    },
    options: {
      animation: false,
      responsive: false,
      events: [],
      layout: { padding: { top: p.legendTop, left: 2.5, right: 0, bottom: 0 } },
      scales: { x: { display: false }, y: { display: false } },
      plugins: {
        tooltip: { enabled: false },
        legend: {
          display: true, position: 'left', align: 'start', maxWidth: 300,
          labels: {
            usePointStyle: true, boxWidth: 5.6, boxHeight: 3, padding: 1.6,
            font: { size: 15.8 },
            generateLabels: () => p.names.map((text, i) => ({
              text, datasetIndex: i, hidden: false,
              fillStyle: p.colors[i], strokeStyle: '#333', lineWidth: 0.8,
              pointStyle: 'circle', fontColor: p.textColors[i],
            })),
          },
        },
      },
    },
  };
}

function GseaPanel({ panel, top }: { panel: Panel; top: number }) {
  const plotRef = useRef<HTMLCanvasElement | null>(null);
  const legendRef = useRef<HTMLCanvasElement | null>(null);

  useEffect(() => {
    if (!plotRef.current || !legendRef.current) return;
    const plot = new Chart(plotRef.current, plotConfig(panel));
    const legend = new Chart(legendRef.current, legendConfig(panel));
    return () => {
      plot.destroy();
      legend.destroy();
    };
  }, [panel]);

  return (
    <>
      <canvas ref={plotRef} width={440} height={panel.height}
        style={{ position: 'absolute', left: 0, top, width: 440, height: panel.height }} />
      <canvas ref={legendRef} width={300} height={330}
        style={{ position: 'absolute', left: 440, top, width: 300, height: 330 }} />
    </>
  );
}

export default function App() {
  useEffect(() => {
    document.body.style.margin = '0';
  }, []);
  return (
    <div style={{ position: 'relative', width: 740, height: 820, overflow: 'hidden', background: '#fff' }}>
      <GseaPanel panel={panelA} top={0} />
      <GseaPanel panel={panelB} top={400} />
    </div>
  );
}
